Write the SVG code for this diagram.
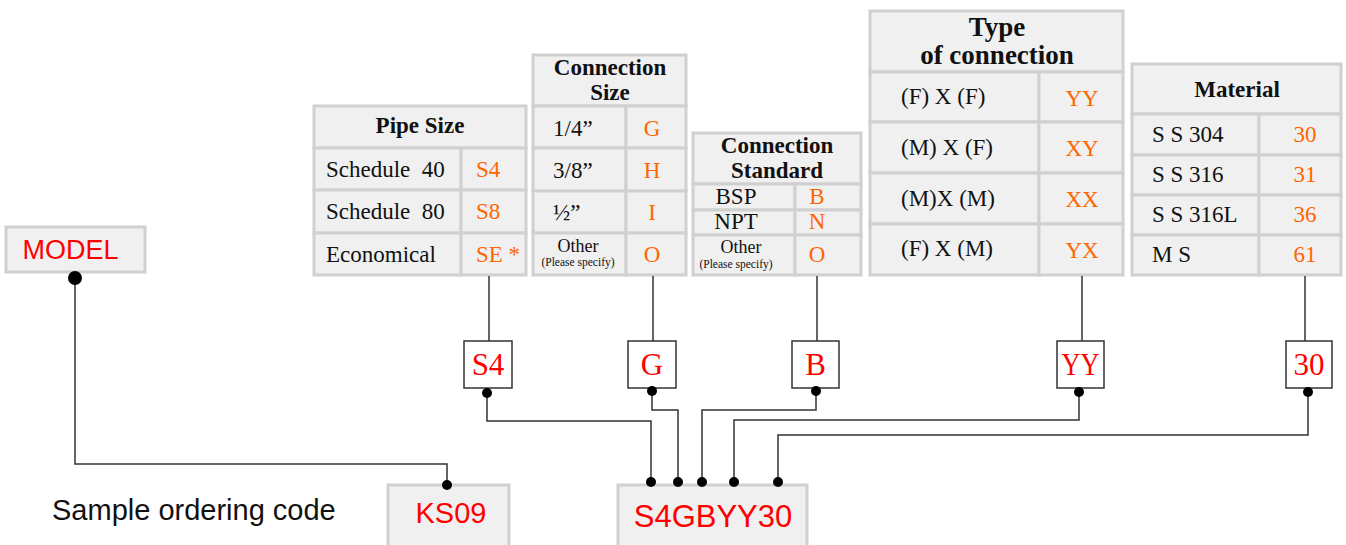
<svg xmlns="http://www.w3.org/2000/svg" width="1346" height="545" viewBox="0 0 1346 545">
<style>
.cell{fill:#f0f0f0;stroke:#d0d0d0;stroke-width:3}
.t{font-family:"Liberation Serif","Times New Roman",serif;font-size:23px;fill:#111}
.h{font-family:"Liberation Serif","Times New Roman",serif;font-size:23px;font-weight:bold;fill:#111;text-anchor:middle}
.hb{font-size:27px}
.c{font-family:"Liberation Serif","Times New Roman",serif;font-size:23px;fill:#ff6600;text-anchor:middle}
.cs{text-anchor:start}
.tm{text-anchor:middle}
.sm{font-family:"Liberation Serif","Times New Roman",serif;font-size:11.5px;fill:#111;text-anchor:middle}
.o{font-family:"Liberation Serif","Times New Roman",serif;font-size:18px;fill:#111;text-anchor:middle}
.box{fill:#fff;stroke:#333;stroke-width:1.5}
.bt{font-family:"Liberation Serif","Times New Roman",serif;font-size:31px;fill:#ff0000;text-anchor:middle}
.st{font-family:"Liberation Sans",Arial,sans-serif;fill:#ff0000;text-anchor:middle}
.ln{fill:none;stroke:#333;stroke-width:1.5}
.dot{fill:#000}
</style>

<g id="model">
<rect class="cell" x="6" y="227" width="139" height="45"/>
<text class="st" x="70.5" y="259" font-size="27">MODEL</text>
</g>

<g id="pipe-size">
<rect class="cell" x="314" y="106" width="212" height="42"/>
<rect class="cell" x="314" y="148" width="147" height="42"/>
<rect class="cell" x="461" y="148" width="65" height="42"/>
<rect class="cell" x="314" y="190" width="147" height="43"/>
<rect class="cell" x="461" y="190" width="65" height="43"/>
<rect class="cell" x="314" y="233" width="147" height="42"/>
<rect class="cell" x="461" y="233" width="65" height="42"/>
<text class="h" x="420" y="133">Pipe Size</text>
<text class="t" x="326" y="177" xml:space="preserve">Schedule  40</text>
<text class="t" x="326" y="219" xml:space="preserve">Schedule  80</text>
<text class="t" x="326" y="262">Economical</text>
<text class="c cs" x="476" y="177">S4</text>
<text class="c cs" x="476" y="219">S8</text>
<text class="c cs" x="476" y="262">SE *</text>
</g>

<g id="connection-size">
<rect class="cell" x="533" y="55" width="153" height="51"/>
<rect class="cell" x="533" y="106" width="93" height="42"/>
<rect class="cell" x="626" y="106" width="60" height="42"/>
<rect class="cell" x="533" y="148" width="93" height="43"/>
<rect class="cell" x="626" y="148" width="60" height="43"/>
<rect class="cell" x="533" y="191" width="93" height="42"/>
<rect class="cell" x="626" y="191" width="60" height="42"/>
<rect class="cell" x="533" y="233" width="93" height="42"/>
<rect class="cell" x="626" y="233" width="60" height="42"/>
<text class="h" x="610" y="75">Connection</text>
<text class="h" x="610" y="100">Size</text>
<text class="t" x="553" y="136">1/4”</text>
<text class="t" x="553" y="178">3/8”</text>
<text class="t" x="553" y="220">½”</text>
<text class="o" x="578" y="252">Other</text>
<text class="sm" x="578" y="266">(Please specify)</text>
<text class="c" x="652" y="136">G</text>
<text class="c" x="652" y="178">H</text>
<text class="c" x="652" y="220">I</text>
<text class="c" x="652" y="262">O</text>
</g>

<g id="connection-standard">
<rect class="cell" x="693" y="133" width="168" height="51"/>
<rect class="cell" x="693" y="184" width="102" height="26"/>
<rect class="cell" x="795" y="184" width="66" height="26"/>
<rect class="cell" x="693" y="210" width="102" height="25"/>
<rect class="cell" x="795" y="210" width="66" height="25"/>
<rect class="cell" x="693" y="235" width="102" height="40"/>
<rect class="cell" x="795" y="235" width="66" height="40"/>
<text class="h" x="777" y="153">Connection</text>
<text class="h" x="777" y="178">Standard</text>
<text class="t tm" x="736" y="204">BSP</text>
<text class="t tm" x="736" y="229">NPT</text>
<text class="o" x="741" y="253">Other</text>
<text class="sm" x="736" y="268">(Please specify)</text>
<text class="c" x="817" y="204">B</text>
<text class="c" x="817" y="229">N</text>
<text class="c" x="817" y="262">O</text>
</g>

<g id="type-of-connection">
<rect class="cell" x="870" y="11" width="253" height="61"/>
<rect class="cell" x="870" y="72" width="169" height="50"/>
<rect class="cell" x="1039" y="72" width="84" height="50"/>
<rect class="cell" x="870" y="122" width="169" height="51"/>
<rect class="cell" x="1039" y="122" width="84" height="51"/>
<rect class="cell" x="870" y="173" width="169" height="51"/>
<rect class="cell" x="1039" y="173" width="84" height="51"/>
<rect class="cell" x="870" y="224" width="169" height="51"/>
<rect class="cell" x="1039" y="224" width="84" height="51"/>
<text class="h hb" x="997" y="36">Type</text>
<text class="h hb" x="997" y="64">of connection</text>
<text class="t" x="901" y="104">(F) X (F)</text>
<text class="t" x="901" y="155">(M) X (F)</text>
<text class="t" x="901" y="206">(M)X (M)</text>
<text class="t" x="901" y="256">(F) X (M)</text>
<text class="c" x="1082" y="106">YY</text>
<text class="c" x="1082" y="156">XY</text>
<text class="c" x="1082" y="207">XX</text>
<text class="c" x="1082" y="258">YX</text>
</g>

<g id="material">
<rect class="cell" x="1132" y="64" width="209" height="50"/>
<rect class="cell" x="1132" y="114" width="127" height="41"/>
<rect class="cell" x="1259" y="114" width="82" height="41"/>
<rect class="cell" x="1132" y="155" width="127" height="40"/>
<rect class="cell" x="1259" y="155" width="82" height="40"/>
<rect class="cell" x="1132" y="195" width="127" height="40"/>
<rect class="cell" x="1259" y="195" width="82" height="40"/>
<rect class="cell" x="1132" y="235" width="127" height="40"/>
<rect class="cell" x="1259" y="235" width="82" height="40"/>
<text class="h" x="1237" y="97">Material</text>
<text class="t" x="1152" y="142">S S 304</text>
<text class="t" x="1152" y="182">S S 316</text>
<text class="t" x="1152" y="222">S S 316L</text>
<text class="t" x="1152" y="262">M S</text>
<text class="c" x="1305" y="142">30</text>
<text class="c" x="1305" y="182">31</text>
<text class="c" x="1305" y="222">36</text>
<text class="c" x="1305" y="262">61</text>
</g>

<g id="code-s4"><rect class="box" x="464" y="341" width="48" height="47"/><text class="bt" x="488" y="375">S4</text></g>
<g id="code-g"><rect class="box" x="628" y="341" width="48" height="47"/><text class="bt" x="652" y="375">G</text></g>
<g id="code-b"><rect class="box" x="792" y="341" width="47" height="47"/><text class="bt" x="815.5" y="375">B</text></g>
<g id="code-yy"><rect class="box" x="1057" y="341" width="47" height="47"/><text class="bt" x="1080.5" y="375" textLength="38" lengthAdjust="spacingAndGlyphs">YY</text></g>
<g id="code-30"><rect class="box" x="1286" y="341" width="46" height="47"/><text class="bt" x="1309" y="375">30</text></g>

<g id="ks09">
<rect class="cell" x="388" y="485" width="121" height="65"/>
<text class="st" x="451" y="523" font-size="29">KS09</text>
</g>
<g id="full-code">
<rect class="cell" x="618" y="485" width="189" height="65"/>
<text class="st" x="713" y="527" font-size="31">S4GBYY30</text>
</g>
<text x="52" y="520" font-family="Liberation Sans, Arial, sans-serif" font-size="29" fill="#111">Sample ordering code</text>

<g id="connectors">
<path class="ln" d="M489 276V341"/>
<path class="ln" d="M653 276V341"/>
<path class="ln" d="M817 276V341"/>
<path class="ln" d="M1082 276V341"/>
<path class="ln" d="M1305 276V341"/>
<path class="ln" d="M75 278V464H447V485"/>
<path class="ln" d="M487 393V421H651V482"/>
<path class="ln" d="M652 391V410H678V482"/>
<path class="ln" d="M816 391V410H702V482"/>
<path class="ln" d="M1079 392V420H734V482"/>
<path class="ln" d="M1308 392V435H778V482"/>
<circle class="dot" cx="75" cy="278" r="7"/>
<circle class="dot" cx="447" cy="485" r="5"/>
<circle class="dot" cx="487" cy="393" r="5"/>
<circle class="dot" cx="652" cy="391" r="5"/>
<circle class="dot" cx="816" cy="391" r="5"/>
<circle class="dot" cx="1079" cy="392" r="5"/>
<circle class="dot" cx="1308" cy="392" r="5"/>
<circle class="dot" cx="651" cy="482" r="5"/>
<circle class="dot" cx="678" cy="482" r="5"/>
<circle class="dot" cx="702" cy="482" r="5"/>
<circle class="dot" cx="734" cy="482" r="5"/>
<circle class="dot" cx="778" cy="482" r="5"/>
</g>
</svg>
